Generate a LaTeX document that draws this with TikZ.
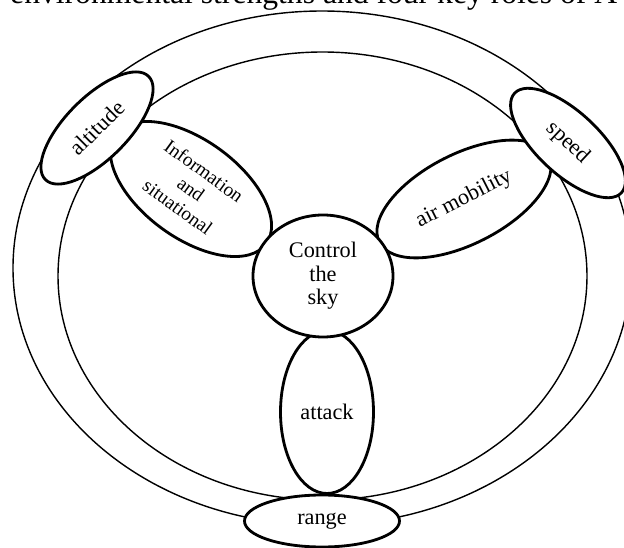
\documentclass[tikz,border=0pt]{standalone}
\usepackage{fontspec}
\setmainfont{Liberation Serif}
\usetikzlibrary{shapes.geometric}

\begin{document}
\begin{tikzpicture}[
    ring/.style={line width=1.2pt},
    role/.style={ellipse, draw, line width=2.4pt, fill=white, inner sep=0pt, align=center,
      font=\fontsize{19}{20}\selectfont}
  ]
    \useasboundingbox (0,0) rectangle (18.72,16.41);
    \clip (0,0) rectangle (18.72,16.41);

    \coordinate (outer) at (9.66,8.37);
    \coordinate (inner) at (9.675,8.13);
    \coordinate (c) at (9.69,8.13);
    \coordinate (att) at (9.81,4.05);
    \coordinate (rng) at (9.66,0.78);
    \coordinate (alt) at (2.91,12.57);
    \coordinate (spd) at (17.04,12.12);
    \coordinate (inf) at (5.73,10.74);
    \coordinate (mob) at (13.92,10.44);

    % caption line cut off by the page
    \node[anchor=base west, inner sep=0pt, font=\fontsize{27}{32}\selectfont] (title) at (0.3,16.305)
      {environmental strengths and four key roles of A};

    % wheel rim
    \draw[ring] (outer) ellipse (9.27 and 7.71);
    \draw[ring] (inner) ellipse (7.935 and 6.72);

    % spokes
    \node[role, rotate=-36, minimum width=5.58cm, minimum height=2.94cm,
      font=\fontsize{16.5}{19}\selectfont] (info) at (inf) {Information\\and\\situational};
    \node[role, rotate=27, minimum width=5.7cm, minimum height=2.7cm] (mobility) at (mob) {air mobility};
    \node[role, minimum width=2.79cm, minimum height=4.89cm] (attack) at (att) {attack};

    % on the rim
    \node[role, rotate=45, minimum width=4.38cm, minimum height=1.86cm] (altitude) at (alt) {altitude};
    \node[role, rotate=-43, minimum width=4.38cm, minimum height=1.86cm] (speed) at (spd) {speed};
    \node[role, minimum width=4.65cm, minimum height=1.56cm] (range) at (rng) {range};

    % hub
    \node[role, minimum width=4.2cm, minimum height=3.66cm] (sky) at (c) {Control\\the\\sky};

\end{tikzpicture}
\end{document}
